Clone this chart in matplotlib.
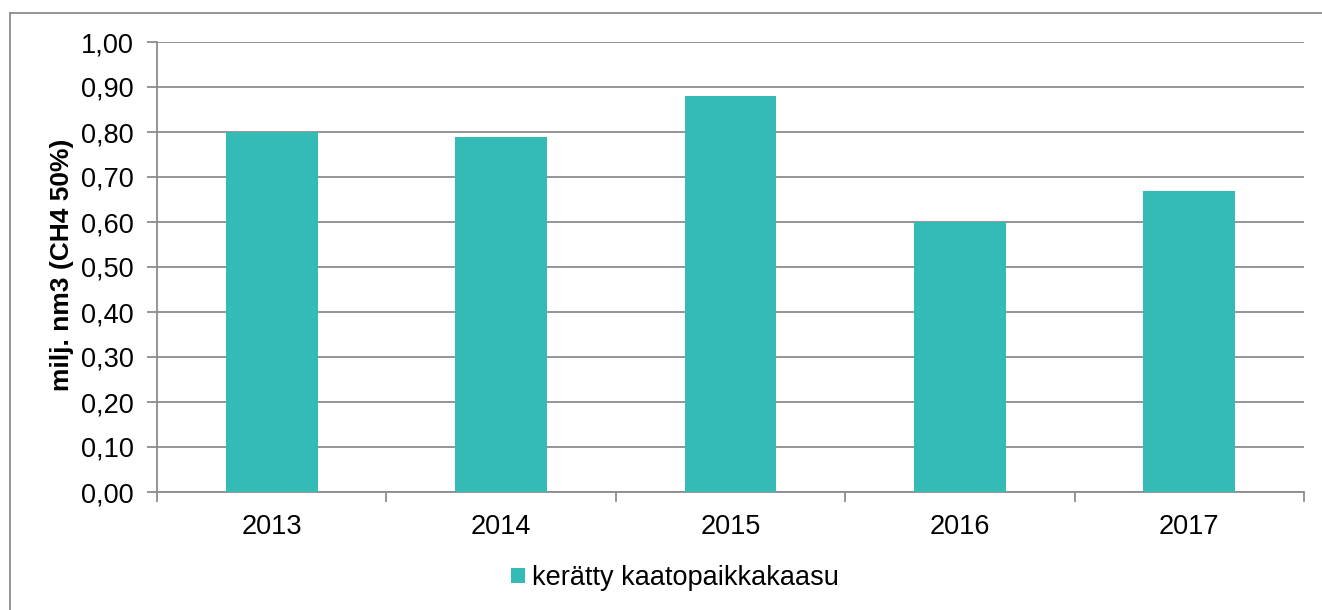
import matplotlib
matplotlib.use("Agg")
import matplotlib.pyplot as plt
from matplotlib.lines import Line2D
from matplotlib.patches import Patch
from matplotlib.ticker import FixedLocator, FuncFormatter

years = ["2013", "2014", "2015", "2016", "2017"]
values = [0.80, 0.79, 0.88, 0.60, 0.67]
series_name = "kerätty kaatopaikkakaasu"
y_label = "milj. nm3 (CH4 50%)"

bar_color = "#35BBB5"
grid_color = "#8C8C8C"

plt.rcParams["font.family"] = ["Liberation Sans", "DejaVu Sans"]

W, H = 1322, 610
fig = plt.figure(figsize=(W / 100, H / 100), dpi=100)
ax = fig.add_axes([157 / W, 1 - 492 / H, (1304 - 157) / W, (492 - 42) / H])

x = list(range(len(years)))
ax.bar(x, values, width=0.4, color=bar_color, zorder=3)

ax.set_xlim(-0.5, len(years) - 0.5)
ax.set_ylim(0, 1.0)
ax.set_yticks([i / 10 for i in range(11)])
ax.yaxis.set_major_formatter(FuncFormatter(lambda v, p: f"{v:.2f}".replace(".", ",")))
ax.set_xticks(x)
ax.set_xticklabels(years)
ax.xaxis.set_minor_locator(FixedLocator([i - 0.5 for i in range(len(years) + 1)]))

ax.grid(axis="y", color=grid_color, linewidth=1.3, zorder=0)
ax.set_axisbelow(True)
for s in ("top", "right"):
    ax.spines[s].set_visible(False)
for s in ("left", "bottom"):
    ax.spines[s].set_color(grid_color)
    ax.spines[s].set_linewidth(1.3)

ax.tick_params(axis="y", which="major", length=7, width=1.3, color=grid_color,
               labelsize=19.5, pad=10, labelcolor="black")
ax.tick_params(axis="x", which="major", length=0, labelsize=19.5, pad=16, labelcolor="black")
ax.tick_params(axis="x", which="minor", length=7, width=1.3, color=grid_color)

fig.text(62 / W, 1 - 265 / H, y_label, rotation=90, ha="center", va="center",
         fontsize=19, fontweight="bold")

handle = Patch(facecolor=bar_color, edgecolor="none")
fig.legend([handle], [series_name], loc="center",
           bbox_to_anchor=(675 / W, 1 - 578 / H), frameon=False, fontsize=19.5,
           handlelength=0.52, handleheight=0.52, handletextpad=0.25)

# outer chart frame (top and left edges visible)
fx0, fy1 = 10 / W, 1 - 13 / H
fig.add_artist(Line2D([fx0, 1.0], [fy1, fy1], transform=fig.transFigure,
                      color=grid_color, linewidth=1.3))
fig.add_artist(Line2D([fx0, fx0], [0.0, fy1], transform=fig.transFigure,
                      color=grid_color, linewidth=1.3))

fig.savefig("out.png", dpi=100)
